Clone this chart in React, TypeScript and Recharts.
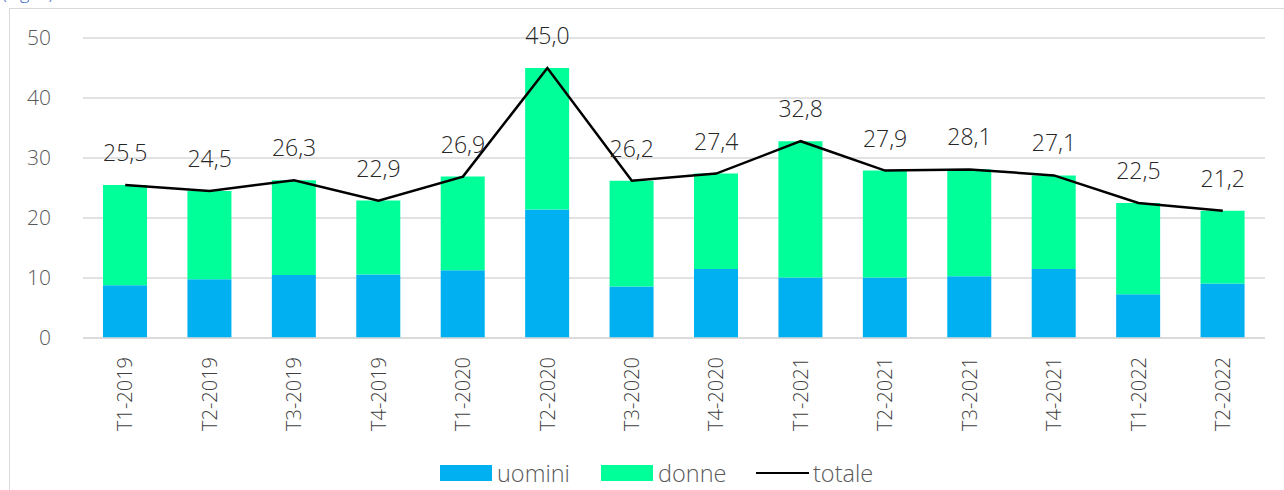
import React from 'react';
import { ComposedChart, Bar, Line, XAxis, YAxis, CartesianGrid, LabelList } from 'recharts';

const categories = ['T1-2019', 'T2-2019', 'T3-2019', 'T4-2019', 'T1-2020', 'T2-2020', 'T3-2020', 'T4-2020', 'T1-2021', 'T2-2021', 'T3-2021', 'T4-2021', 'T1-2022', 'T2-2022'];
const uomini = [8.8, 9.8, 10.5, 10.6, 11.3, 21.4, 8.6, 11.5, 10.1, 10.1, 10.3, 11.5, 7.3, 9.1];
const donne = [16.7, 14.7, 15.8, 12.3, 15.6, 23.6, 17.6, 15.9, 22.7, 17.8, 17.8, 15.6, 15.2, 12.1];
const totale = [25.5, 24.5, 26.3, 22.9, 26.9, 45.0, 26.2, 27.4, 32.8, 27.9, 28.1, 27.1, 22.5, 21.2];
const yTicks = [0, 10, 20, 30, 40, 50];

const data = categories.map((c, i) => ({ name: c, uomini: uomini[i], donne: donne[i], totale: totale[i] }));

const FONT = "'Open Sans', 'Noto Sans', sans-serif";
const BLUE = '#00B0F0';
const GREEN = '#00FF99';
const GRID = '#D9D9D9';

const XTick = (props: any) => {
  const { x, y, payload } = props;
  return (
    <g transform={`translate(${x},${y + 19})`}>
      <text transform="rotate(-90)" textAnchor="end" dy="0.36em" fill="#404040" fontSize={20} fontFamily={FONT} fontWeight={300}>
        {payload.value}
      </text>
    </g>
  );
};

const fmt = (v: any) => Number(v).toFixed(1).replace('.', ',');

export default function App() {
  return (
    <div style={{ position: 'absolute', left: 0, top: 0, width: 1284, height: 490, background: '#fff', overflow: 'hidden', fontFamily: FONT }}>
      <div style={{ position: 'absolute', left: 2, top: -17, fontSize: 18, lineHeight: '18px', color: '#4472C4', fontWeight: 300, whiteSpace: 'nowrap' }}>(Fig. 6)</div>
      <div style={{ position: 'absolute', left: 9, top: 8, width: 1300, height: 600, borderLeft: `1.5px solid ${GRID}`, borderTop: `1.5px solid ${GRID}` }} />
      <div style={{ position: 'absolute', left: 0, top: 0 }}>
        <ComposedChart width={1284} height={490} data={data} margin={{ top: 38, right: 19, left: 23, bottom: 0 }} barCategoryGap="24%">
          <CartesianGrid vertical={false} stroke={GRID} strokeWidth={1.5} />
          <XAxis
            dataKey="name"
            height={152}
            interval={0}
            tickLine={false}
            tickSize={0}
            tickMargin={0}
            axisLine={{ stroke: GRID, strokeWidth: 1.5 }}
            tick={<XTick />}
          />
          <YAxis
            width={60}
            domain={[0, 50]}
            ticks={yTicks}
            axisLine={false}
            tickLine={false}
            tickSize={0}
            tickMargin={32}
            tick={{ fill: '#595959', fontSize: 21, fontFamily: FONT, fontWeight: 300 }}
          />
          <Bar dataKey="uomini" stackId="a" fill={BLUE} barSize={44} isAnimationActive={false} />
          <Bar dataKey="donne" stackId="a" fill={GREEN} barSize={44} isAnimationActive={false} />
          <Line dataKey="totale" type="linear" stroke="#000" strokeWidth={2.5} dot={false} activeDot={false} isAnimationActive={false}>
            <LabelList dataKey="totale" position="top" offset={24} formatter={fmt} fill="#262626" fontSize={23} fontFamily={FONT} fontWeight={300} />
          </Line>
        </ComposedChart>
      </div>
      <div style={{ position: 'absolute', left: 440, top: 458, display: 'flex', alignItems: 'center', fontSize: 23.5, color: '#595959', fontWeight: 300, lineHeight: '30px' }}>
        <span style={{ display: 'inline-block', width: 52, height: 16, background: BLUE }} />
        <span style={{ marginLeft: 5, width: 104 }}>uomini</span>
        <span style={{ display: 'inline-block', width: 52, height: 16, background: GREEN }} />
        <span style={{ marginLeft: 5, width: 98 }}>donne</span>
        <span style={{ display: 'inline-block', width: 53, height: 2.5, background: '#000' }} />
        <span style={{ marginLeft: 4 }}>totale</span>
      </div>
    </div>
  );
}
